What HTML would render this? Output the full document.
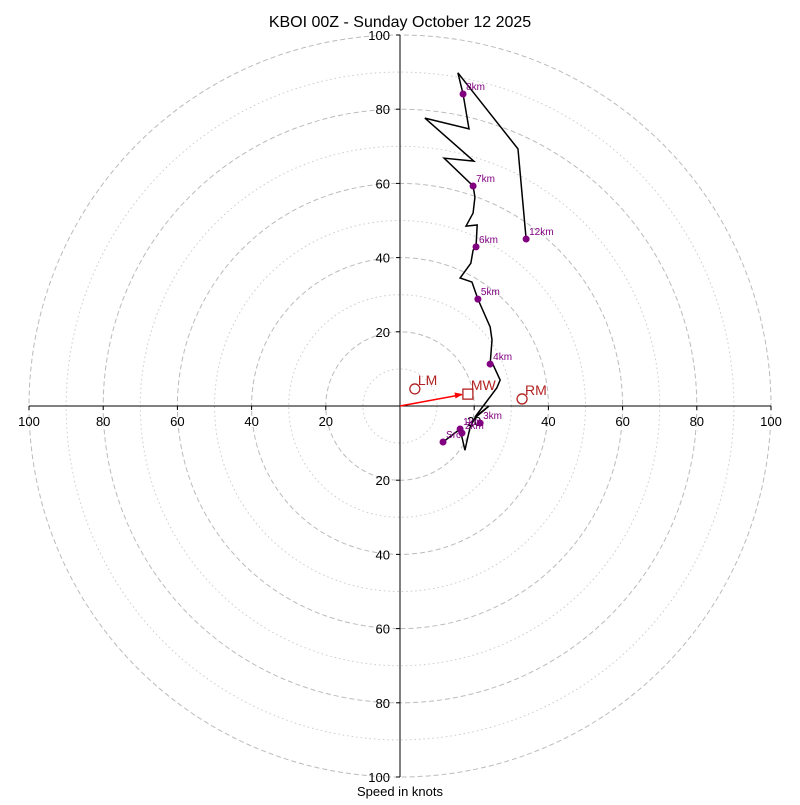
<!DOCTYPE html>
<html><head><meta charset="utf-8"><style>
body{margin:0;background:#fff}
text{font-family:"Liberation Sans","DejaVu Sans",sans-serif}
</style></head><body>
<svg id="c" width="800" height="800" xmlns="http://www.w3.org/2000/svg">
<rect width="800" height="800" fill="#fff"/>
<text x="400" y="27" text-anchor="middle" font-size="16">KBOI 00Z - Sunday October 12 2025</text>
<text x="400" y="796" text-anchor="middle" font-size="13">Speed in knots</text>
<g id="g"></g>
</svg>
<script>
const ringValues=[10,20,30,40,50,60,70,80,90,100];
const tickValues=[20,40,60,80,100];
const traceU=[11.6,16.2,17.5,18.9,20.2,24.0,20.2,26.1,27.0,25.1,24.3,24.8,24.3,21.0,19.4,16.2,19.1,19.7,20.5,20.8,17.8,19.7,20.2,19.7,11.9,19.9,6.7,18.6,17.0,15.6,31.8,34.0];
const traceV=[-9.7,-6.2,-11.9,-5.7,-3.2,0,-3.0,4.9,7.0,11.1,11.3,17.8,21.3,28.8,33.4,34.5,38.5,42.0,42.9,48.8,48.5,52.0,56.3,59.3,66.8,66.0,77.6,74.7,84.1,89.8,69.3,45.0];
const markerLabels=["Src","1km","2km","3km","4km","5km","6km","7km","8km","12km"];
const markerU=[11.6,16.2,16.7,21.6,24.3,21.0,20.5,19.7,17.0,34.0];
const markerV=[-9.7,-6.2,-7.3,-4.6,11.3,28.8,42.9,59.3,84.1,45.0];
const motionLabels=["LM","MW","RM"];
const motionU=[4.0,18.3,32.9];
const motionV=[4.6,3.2,1.9];
const cx=400,cy=406,k=3.71;
const X=u=>cx+u*k, Y=v=>cy-v*k;
const g=document.getElementById('g');
const NS='http://www.w3.org/2000/svg';
function mk(t,a){const e=document.createElementNS(NS,t);for(const n in a)e.setAttribute(n,a[n]);g.appendChild(e);return e;}
ringValues.forEach(r=>{
 const e=mk('circle',{cx:cx,cy:cy,r:r*k,fill:'none',stroke:r%20?'#ccc':'#bbb','stroke-width':1,'stroke-dasharray':r%20?'1.5,3':'5,3'});
 
 
});
let a=mk('line',{x1:X(-100),y1:cy,x2:X(100),y2:cy,stroke:'#000'});


a=mk('line',{x1:cx,y1:Y(100),x2:cx,y2:Y(-100),stroke:'#000'});


tickValues.forEach(t=>{
 [t,-t].forEach(s=>{
  let e=mk('line',{x1:X(s),y1:cy,x2:X(s),y2:cy+4,stroke:'#000'});
  
  
  e=mk('text',{x:X(s),y:cy+20,'text-anchor':'middle','font-size':13});
  e.textContent=t;
  
  
  e=mk('line',{x1:cx-4,y1:Y(s),x2:cx,y2:Y(s),stroke:'#000'});
  
  
  e=mk('text',{x:cx-10,y:Y(s)+5,'text-anchor':'end','font-size':13});
  e.textContent=t;
  
  
 });
});
let p=mk('polyline',{points:traceU.map((u,i)=>X(u)+','+Y(traceV[i])).join(' '),fill:'none',stroke:'#000','stroke-width':1.5});


markerLabels.forEach((l,i)=>{
 let e=mk('circle',{cx:X(markerU[i]),cy:Y(markerV[i]),r:3.5,fill:'purple'});
 
 
 e=mk('text',{x:X(markerU[i])+3,y:Y(markerV[i])-4,'font-size':10,fill:'purple'});
 e.textContent=l;
 
 
});
let ar=mk('line',{x1:X(0),y1:Y(0),x2:X(motionU[1])-6,y2:Y(motionV[1])+0.5,stroke:'red','stroke-width':1.5});


const ang=Math.atan2(Y(motionV[1])-Y(0),X(motionU[1])-X(0)),hx=X(motionU[1])-5,hy=Y(motionV[1]);
ar=mk('polygon',{points:`${hx},${hy} ${hx-8*Math.cos(ang)+3*Math.sin(ang)},${hy-8*Math.sin(ang)-3*Math.cos(ang)} ${hx-8*Math.cos(ang)-3*Math.sin(ang)},${hy-8*Math.sin(ang)+3*Math.cos(ang)}`,fill:'red'});


motionLabels.forEach((l,i)=>{
 let e;
 if(l==='MW') e=mk('rect',{x:X(motionU[i])-5,y:Y(motionV[i])-5,width:10,height:10,fill:'none',stroke:'#b22222','stroke-width':1.3});
 else e=mk('circle',{cx:X(motionU[i]),cy:Y(motionV[i]),r:5,fill:'none',stroke:'#b22222','stroke-width':1.3});
 
 
 e=mk('text',{x:X(motionU[i])+3,y:Y(motionV[i])-4,'font-size':14,fill:'#b22222'});
 e.textContent=l;
 
 
});
</script>
</body></html>
